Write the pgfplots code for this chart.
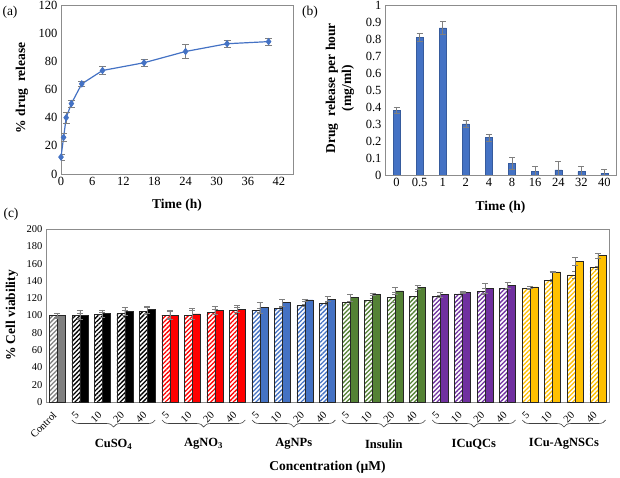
\documentclass[border=0pt]{standalone}
\usepackage{fontspec}
\setmainfont{Liberation Serif}
\usepackage{pgfplots}
\pgfplotsset{compat=1.18}
\usepackage{pgfplotstable}
\usetikzlibrary{patterns.meta,decorations.pathreplacing}

\definecolor{xblue}{HTML}{4472C4}
\definecolor{xgreen}{HTML}{548235}
\definecolor{xpurple}{HTML}{7030A0}
\definecolor{xgold}{HTML}{FFC000}
\definecolor{xred}{HTML}{FF0000}
\definecolor{xgray}{HTML}{808080}
\definecolor{xblack}{HTML}{000000}
\definecolor{errgray}{HTML}{7F7F7F}
\definecolor{boxgray}{HTML}{8C8C8C}

\pgfplotstableread{
x y e
0 12 2
0.5 26 3
1 40 4
2 50 2.5
4 64 2
8 73.5 3
16 79 2.5
24 87 5
32 92.5 2.5
40 94 2.5
}\tablea

\pgfplotstableread{
x y e
0 0.38 0.02
1 0.81 0.025
2 0.865 0.04
3 0.30 0.02
4 0.22 0.02
5 0.07 0.035
6 0.02 0.03
7 0.03 0.05
8 0.02 0.03
9 0.01 0.025
}\tableb

\pgfplotstableread{
x h he s se
0 100 2.5 100 3
}\tcontrol
\pgfplotstableread{
x h he s se
1 100 3 100.5 5
2 101 3 102.5 4
3 102.5 4 105 5
4 105 4 107 4
}\tcuso
\pgfplotstableread{
x h he s se
5 100.5 4 100.5 5
6 100.5 5 102 6
7 104 3 106 5
8 106 4 107.5 4
}\tagno
\pgfplotstableread{
x h he s se
9 106 2 109 6
10 108 2 115 4
11 112 1 118 1
12 114 1 119 3
}\tagnp
\pgfplotstableread{
x h he s se
13 115 2 121 4
14 117.5 2.3 124.5 1.3
15 121 6 128.5 4.4
16 122.5 5.8 132.5 2.5
}\tins
\pgfplotstableread{
x h he s se
17 122.5 1 124 3
18 125 3 126.5 0.5
19 128 3 131.5 6
20 131 0.8 134.5 3.5
}\ticu
\pgfplotstableread{
x h he s se
21 131 1 133 1
22 140.5 1 150.5 0.5
23 147 4.5 163 4.5
24 155.5 2 169.5 3
}\ticuag

\pgfplotsset{
 hbar/.style={ybar, bar width=8pt, bar shift=-4pt, draw=black!85, line width=0.5pt, fill=white,
   postaction={pattern={Lines[angle=45,distance=3.2pt,line width=1.3pt]}, pattern color=#1}},
 sbar/.style={ybar, bar width=8pt, bar shift=4pt, draw=black!85, line width=0.5pt, fill=#1},
 errc/.style={error bars/.cd, y dir=both, y explicit,
   error bar style={errgray, line width=0.5pt},
   error mark options={rotate=90, mark size=3pt, errgray, line width=0.5pt}},
 common/.style={scale only axis, anchor=south west, axis line style={boxgray, line width=0.6pt},
   major tick length=0pt, tick align=inside,
   /pgf/number format/assume math mode=true,
   every axis label/.append style={font=\fontsize{13.5}{16}\bfseries\selectfont}},
}
\tikzset{
 grpbrace/.style={black!75, line width=0.6pt, decorate, decoration={brace, mirror, amplitude=7pt}},
 grpname/.style={font=\fontsize{12.5}{14}\bfseries\selectfont},
}

\begin{document}
\begin{tikzpicture}
% ---------- (a)
\begin{axis}[common, at={(61pt,303pt)}, width=232pt, height=169pt,
  xmin=0, xmax=44.7, ymin=0, ymax=120,
  xtick={0,6,...,42}, ytick={0,20,...,120},
  tick label style={font=\fontsize{12.5}{14}\selectfont},
  xlabel={Time (h)}, ylabel={\% drug\ \ release},
  every axis x label/.style={at={(axis description cs:0.5,-0.183)}, anchor=center},
  every axis y label/.style={at={(axis description cs:-0.168,0.51)}, anchor=center, rotate=90},
]
\addplot[color=xblue, line width=1.2pt, mark=diamond*, mark size=2.8pt,
  error bars/.cd, y dir=both, y explicit,
  error bar style={errgray, line width=0.6pt},
  error mark options={rotate=90, mark size=3.5pt, errgray, line width=0.6pt}]
  table[x=x, y=y, y error=e] {\tablea};
\end{axis}
% ---------- (b)
\begin{axis}[common, at={(385pt,302pt)}, width=231pt, height=170pt,
  xmin=-0.5, xmax=9.5, ymin=0, ymax=1,
  xtick={0,...,9}, xticklabels={0,0.5,1,2,4,8,16,24,32,40},
  ytick={0,0.1,0.2,0.3,0.4,0.5,0.6,0.7,0.8,0.9,1},
  yticklabel style={/pgf/number format/.cd, fixed, precision=1},
  tick label style={font=\fontsize{12.5}{14}\selectfont},
  xlabel={Time (h)}, ylabel={Drug\ \ release per hour\\(mg/ml)},
  every axis x label/.style={at={(axis description cs:0.5,-0.19)}, anchor=center},
  every axis y label/.style={at={(axis description cs:-0.195,0.51)}, anchor=center, rotate=90, align=center},
]
\addplot[ybar, bar width=7pt, fill=xblue, draw=xblue!80!black, line width=0.4pt,
  error bars/.cd, y dir=both, y explicit,
  error bar style={errgray, line width=0.6pt},
  error mark options={rotate=90, mark size=3pt, errgray, line width=0.6pt}]
  table[x=x, y=y, y error=e] {\tableb};
\end{axis}
% ---------- (c)
\begin{axis}[common, at={(46pt,75pt)}, width=563pt, height=173pt,
  xmin=-0.5, xmax=24.5, ymin=0, ymax=200,
  xtick={0,...,24},
  xticklabels={Control,5,10,20,40,5,10,20,40,5,10,20,40,5,10,20,40,5,10,20,40,5,10,20,40},
  ytick={0,20,...,200},
  yticklabel style={font=\fontsize{10.5}{12}\selectfont},
  xticklabel style={font=\fontsize{10.5}{12}\selectfont, rotate=45, anchor=east},
  xticklabel shift=9pt,
  xlabel={Concentration (µM)}, ylabel={\% Cell viability},
  every axis x label/.style={at={(axis description cs:0.5,-0.376)}, anchor=center},
  every axis y label/.style={at={(axis description cs:-0.0604,0.5)}, anchor=center, rotate=90},
  clip=false,
]
\addplot[hbar=xgray, errc] table[x=x, y=h, y error=he] {\tcontrol};
\addplot[sbar=xgray, errc] table[x=x, y=s, y error=se] {\tcontrol};
\addplot[hbar=xblack, errc] table[x=x, y=h, y error=he] {\tcuso};
\addplot[sbar=xblack, errc] table[x=x, y=s, y error=se] {\tcuso};
\addplot[hbar=xred, errc] table[x=x, y=h, y error=he] {\tagno};
\addplot[sbar=xred, errc] table[x=x, y=s, y error=se] {\tagno};
\addplot[hbar=xblue, errc] table[x=x, y=h, y error=he] {\tagnp};
\addplot[sbar=xblue, errc] table[x=x, y=s, y error=se] {\tagnp};
\addplot[hbar=xgreen, errc] table[x=x, y=h, y error=he] {\tins};
\addplot[sbar=xgreen, errc] table[x=x, y=s, y error=se] {\tins};
\addplot[hbar=xpurple, errc] table[x=x, y=h, y error=he] {\ticu};
\addplot[sbar=xpurple, errc] table[x=x, y=s, y error=se] {\ticu};
\addplot[hbar=xgold, errc] table[x=x, y=h, y error=he] {\ticuag};
\addplot[sbar=xgold, errc] table[x=x, y=s, y error=se] {\ticuag};
% braces and group names
\draw[grpbrace] ([yshift=-18pt]axis cs:0.65,0) -- ([yshift=-18pt]axis cs:4.35,0);
\draw[grpbrace] ([yshift=-18pt]axis cs:4.65,0) -- ([yshift=-18pt]axis cs:8.35,0);
\draw[grpbrace] ([yshift=-18pt]axis cs:8.65,0) -- ([yshift=-18pt]axis cs:12.35,0);
\draw[grpbrace] ([yshift=-18pt]axis cs:12.65,0) -- ([yshift=-18pt]axis cs:16.35,0);
\draw[grpbrace] ([yshift=-18pt]axis cs:16.65,0) -- ([yshift=-18pt]axis cs:20.35,0);
\draw[grpbrace] ([yshift=-18pt]axis cs:20.65,0) -- ([yshift=-18pt]axis cs:24.35,0);
\node[grpname] at ([yshift=-42pt]axis cs:2.5,0) {CuSO\textsubscript{4}};
\node[grpname] at ([yshift=-42pt]axis cs:6.5,0) {AgNO\textsubscript{3}};
\node[grpname] at ([yshift=-42pt]axis cs:10.5,0) {AgNPs};
\node[grpname] at ([yshift=-42pt]axis cs:14.5,0) {Insulin};
\node[grpname] at ([yshift=-42pt]axis cs:18.5,0) {ICuQCs};
\node[grpname] at ([yshift=-42pt]axis cs:22.5,0) {ICu-AgNSCs};
\end{axis}
% panel letters
\node[font=\fontsize{13.5}{16}\selectfont] at (10pt,465pt) {(a)};
\node[font=\fontsize{13.5}{16}\selectfont] at (310pt,465pt) {(b)};
\node[font=\fontsize{13.5}{16}\selectfont] at (11pt,263pt) {(c)};
\pgfresetboundingbox
\useasboundingbox (0,0) rectangle (620pt,477pt);
\end{tikzpicture}
\end{document}
